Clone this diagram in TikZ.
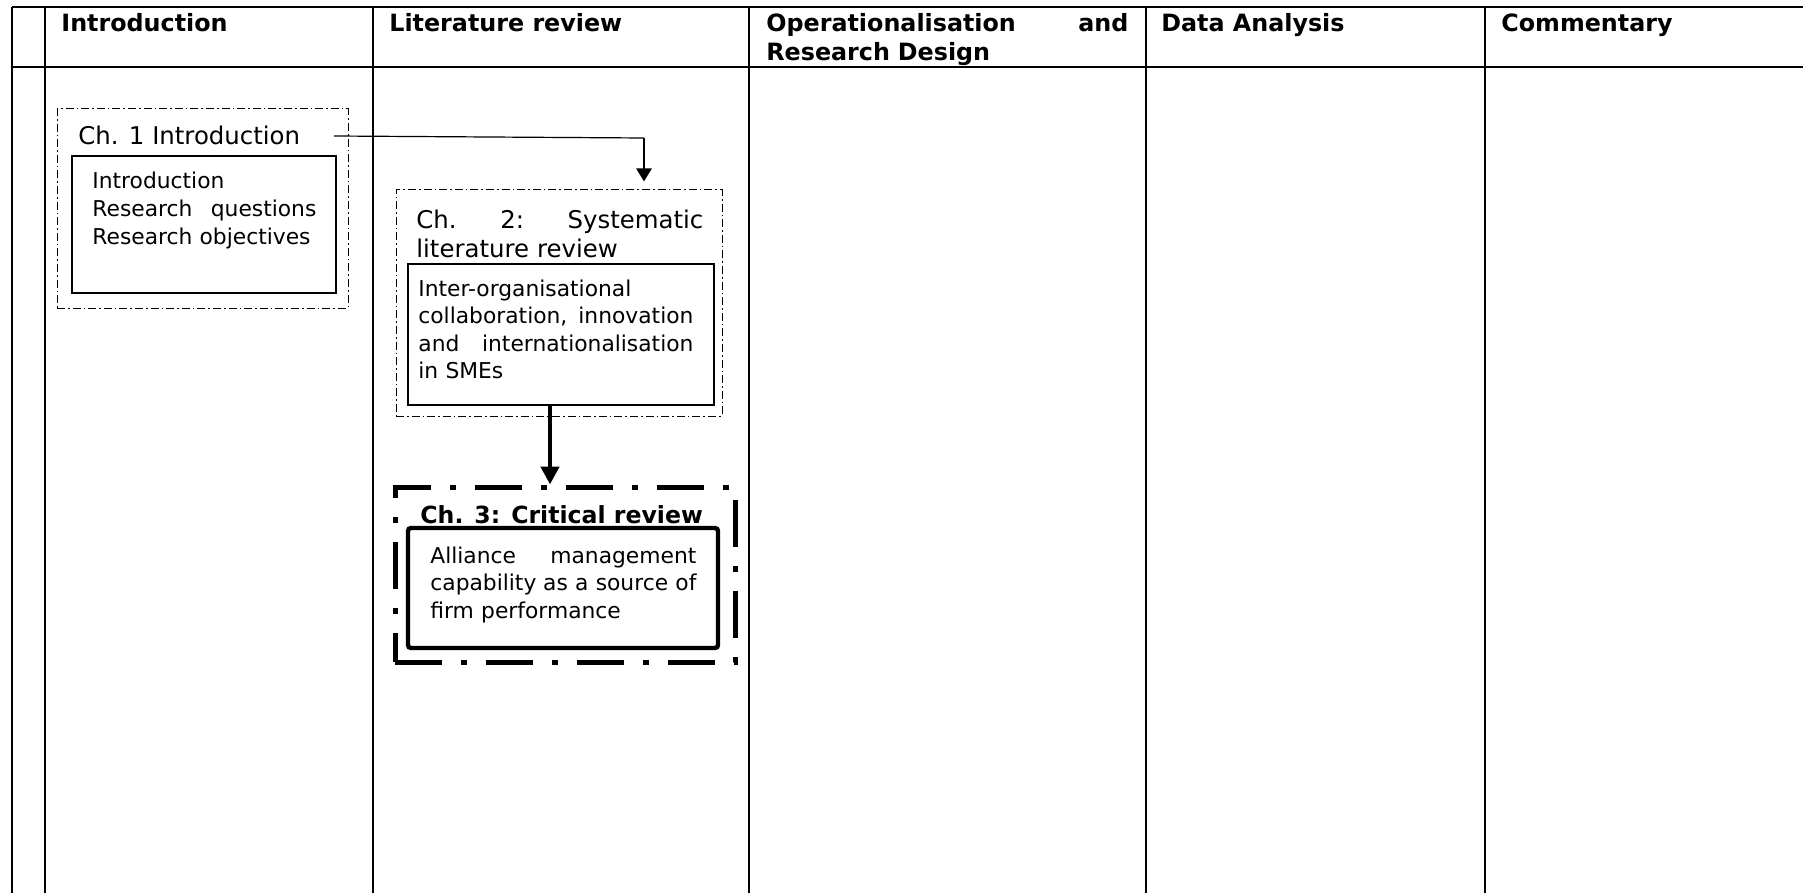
\documentclass[tikz,border=0pt]{standalone}
\usepackage{fontspec}
\setmainfont{DejaVu Sans}
\usetikzlibrary{positioning}
\usetikzlibrary{arrows.meta}

\begin{document}
\begin{tikzpicture}[x=0.5pt, y=-0.5pt,
    regla/.style={line width=1.1pt},
    encabezado/.style={anchor=base west, inner sep=0, font=\bfseries\fontsize{11.9}{14.5}\selectfont},
    cajafina/.style={draw, inner sep=0, line width=0.5pt, dash pattern=on 4pt off 1.5pt on 0.8pt off 1.5pt},
    cajainterna/.style={draw, inner sep=0, line width=0.6pt},
    cajagruesa/.style={draw, inner sep=0, line width=2.5pt, dash pattern=on 23.5pt off 9.5pt on 3pt off 9.5pt},
    cajafuerte/.style={draw, inner sep=0, line width=2.2pt, rounded corners=1.5pt},
    titulo/.style={anchor=base west, inner sep=0, font=\fontsize{12.2}{14.5}\selectfont},
    texto/.style={anchor=base west, inner sep=0, align=left, font=\fontsize{10.9}{13.75}\selectfont}
  ]
  \useasboundingbox (0,0) rectangle (1803,893);

  % Tabla
  \draw[regla] (12,7) -- (1803,7);
  \draw[regla] (12,67) -- (1803,67);
  \draw[regla] (12,7) -- (12,893);
  \draw[regla] (45,7) -- (45,893);
  \draw[regla] (373,7) -- (373,893);
  \draw[regla] (749,7) -- (749,893);
  \draw[regla] (1146,7) -- (1146,893);
  \draw[regla] (1485,7) -- (1485,893);

  % Encabezados
  \node[encabezado] (hintro) at (61,32) {Introduction};
  \node[encabezado] (hlit) at (389,32) {Literature review};
  \node[encabezado, text width=181pt, align=left] (hoper) at (766,32) {Operationalisation\hfill and\\Research Design};
  \node[encabezado] (hdata) at (1161,32) {Data Analysis};
  \node[encabezado] (hcomm) at (1501,32) {Commentary};

  % Cajas
  \node[cajafina, minimum width=145.5pt, minimum height=99.5pt] (ch1box) at (202.5,208.5) {};
  \node[cajainterna, minimum width=132pt, minimum height=68.5pt] (ch1inner) at (204,224.5) {};
  \node[cajafina, minimum width=163pt, minimum height=113pt] (ch2box) at (559,303) {};
  \node[cajainterna, minimum width=153pt, minimum height=70.5pt] (ch2inner) at (561,334.5) {};
  \node[cajagruesa, minimum width=170pt, minimum height=87.5pt] (ch3box) at (565,574.5) {};
  \node[cajafuerte, minimum width=155pt, minimum height=60pt] (ch3inner) at (563,588) {};

  % Textos
  \node[titulo] (ch1title) at (78,145) {Ch. 1 Introduction};
  \node[texto, text width=112pt, font=\fontsize{10.9}{14}\selectfont] (ch1text) at (92,189) {Introduction\\Research\hfill questions\\Research objectives};
  \node[titulo, text width=143.5pt, align=left] (ch2title) at (416,228) {Ch.\hfill 2:\hfill Systematic\\literature review};
  \node[texto, text width=137.5pt] (ch2text) at (418,296) {Inter-organisational\\collaboration,\hfill innovation\\and\hfill internationalisation\\in SMEs};
  \node[titulo, font=\bfseries\fontsize{11.8}{14.5}\selectfont] (ch3title) at (420,523) {Ch. 3: Critical review};
  \node[texto, text width=133pt] (ch3text) at (430,563) {Alliance\hfill management\\capability\hfill as a source of\\firm performance};

  % Flechas
  \coordinate (a1start) at (334,136);
  \coordinate (a1corner) at (644,138);
  \draw[line width=0.6pt] (a1start) -- (a1corner);
  \draw[line width=1.3pt, -{Triangle[width=7.5pt,length=6.5pt]}, shorten >=4pt] (a1corner) -- (a1corner |- ch2box.north);
  \coordinate (a2start) at (550,406);
  \draw[line width=2.4pt, -{Triangle[width=9pt,length=9pt]}] (a2start) -- (a2start |- ch3box.north);
\end{tikzpicture}
\end{document}
